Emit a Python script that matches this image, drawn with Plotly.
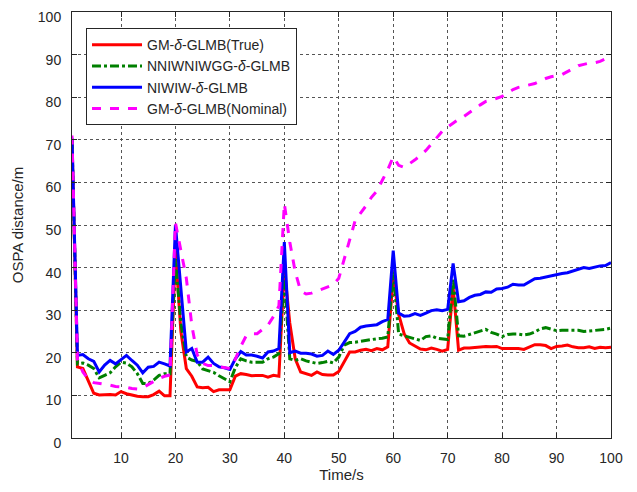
import plotly.graph_objects as go

time_s = list(range(1, 101))

gm_true = [70, 16.7, 16.3, 13.2, 10.5, 10.1, 10.2, 10.2, 10.1, 10.9,
           10.4, 10.1, 9.8, 9.7, 9.7, 10.2, 11.0, 9.9, 9.9, 44,
           25, 16.3, 14.5, 12, 11.8, 11.9, 10.9, 11.3, 11.3, 11.3,
           14.5, 15.1, 14.9, 14.6, 14.7, 14.7, 14.3, 14.7, 14.5, 40,
           27, 18.6, 15.5, 15.1, 14.7, 15.5, 14.9, 14.8, 14.8, 15.6,
           18, 20.2, 20.2, 20.6, 20.8, 20.5, 21, 20.7, 21.4, 38,
           29, 24.5, 22.3, 21.5, 20.9, 20.7, 21.1, 20.8, 20.4, 20.8,
           35.5, 20.6, 21.1, 21.1, 21.2, 21.3, 21.5, 21.4, 21.5, 21,
           21, 21.1, 21, 20.8, 21.4, 21.9, 21.9, 21.7, 21, 21.5,
           21.6, 21.8, 21.4, 21.2, 21.2, 21.4, 21, 21.3, 21.2, 21.3]

nniw_gg = [70, 17.4, 17.6, 17.1, 16.3, 14.1, 14.7, 15.3, 16.7, 17.8,
           17.6, 16.7, 15.1, 12.8, 12.8, 13.6, 14.7, 15.1, 15.1, 42,
           27, 19, 18.3, 18, 16.2, 15.8, 15.4, 14.6, 13.8, 13.2,
           16.5, 18.6, 18.1, 17.8, 17.8, 17.8, 18.6, 19, 19.8, 38,
           18.6, 18.2, 18.6, 18.1, 17.8, 17.5, 17.7, 18, 17.6, 19,
           21.8, 22.4, 22.5, 22.7, 23, 23.2, 23.3, 23.4, 23.7, 39,
           24.4, 24, 23.6, 23.2, 22.9, 23.8, 24, 23.4, 23.2, 23.1,
           37.5, 24, 23.9, 24.3, 24.6, 25, 25.5, 24.8, 24.4, 23.8,
           24.3, 24.4, 24.4, 24.2, 24.4, 24.9, 25.6, 25.9, 25.6, 25.2,
           25.3, 25.3, 25.4, 25.3, 25, 25.1, 25.2, 25.3, 25.5, 25.8]

niwiw = [70.5, 19.4, 19.6, 18.6, 18.0, 15.5, 17.1, 18.2, 17.4, 18.4,
         19.4, 18.2, 17.1, 15.3, 16.6, 16.8, 17.8, 17.4, 16.9, 50,
         35, 20.2, 21, 17.8, 17.8, 19, 17.5, 16.7, 16.5, 16.1,
         18.6, 20.3, 19.5, 19.5, 19.2, 18.8, 20.2, 20.4, 21, 46,
         20, 20.4, 19.9, 19.9, 19.7, 19.2, 19.4, 20.4, 19.6, 20.6,
         22.5, 24.5, 25, 26, 26.3, 26.4, 26.6, 27.3, 27.8, 44,
         29.3, 28.6, 28.7, 29.2, 28.8, 29.3, 29.9, 30.1, 29.9, 30.2,
         41, 32, 32.2, 33, 33.5, 33.7, 34.3, 34.2, 35, 35.1,
         35.4, 36.1, 35.9, 35.9, 36.7, 37.4, 37.5, 37.8, 38, 38.4,
         38.6, 38.8, 39.2, 39.6, 40, 39.8, 40.1, 40.4, 40.5, 41.2]

gm_nominal = [71, 18.5, 15.5, 13.8, 13, 12.8, 12.7, 12.4, 12.1, 12,
              11.9, 11.6, 11.5, 11.8, 12.6, 13.3, 14, 14.5, 14.8, 50.5,
              44, 37.5, 26.5, 19.5, 17.5, 17, 17, 16.8, 16.5, 16.3,
              18.5, 21.5, 24, 24.5, 24.5, 25.5, 26.5, 28.5, 31, 55,
              46, 39, 34.5, 33.8, 34, 34.5, 35, 35.5, 36, 37.5,
              42, 47, 51, 52.8, 54.5, 56.5, 58, 60.5, 63, 66,
              64, 63.5, 64.3, 65.3, 66.3, 67.5, 69, 70.5, 72, 73,
              74, 74.8, 75.5, 76.3, 77.3, 78.2, 79, 79.3, 79.7, 80.2,
              81, 81.8, 82.3, 82.6, 82.8, 83.2, 83.8, 84.4, 84.8, 85,
              85.3, 86, 86.8, 87.4, 87.7, 88, 88.1, 88.4, 89, 89.5]

series_names = ["GM-<i>δ</i>-GLMB(True)", "NNIWNIWGG-<i>δ</i>-GLMB",
                "NIWIW-<i>δ</i>-GLMB", "GM-<i>δ</i>-GLMB(Nominal)"]
x_ticks = [10, 20, 30, 40, 50, 60, 70, 80, 90, 100]
y_ticks = [0, 10, 20, 30, 40, 50, 60, 70, 80, 90, 100]

styles = [("#ff0000", "solid"), ("#008000", "dashdot"),
          ("#0000ff", "solid"), ("#ff00ff", "dash")]

fig = go.Figure()
for name, ys, (col, dash) in zip(series_names, [gm_true, nniw_gg, niwiw, gm_nominal], styles):
    fig.add_trace(go.Scatter(x=time_s, y=ys, mode="lines", name=name,
                             line=dict(color=col, width=3, dash=dash)))

font_family = "Liberation Sans, Arial, sans-serif"
axis_common = dict(
    showline=True, linecolor="#262626", linewidth=1, mirror="ticks",
    ticks="inside", ticklen=5, tickcolor="#262626",
    showgrid=True, gridcolor="#555555", griddash="dot", gridwidth=1,
    zeroline=False, automargin=False, ticklabelstandoff=7,
    ticklabeloverflow="allow",
    tickfont=dict(size=14, color="#262626", family=font_family),
)

# the page body has an 8px margin, so the figure is sized to fit the window
fig.update_layout(
    width=629, height=484,
    margin=dict(l=64, r=26, t=4, b=54),
    paper_bgcolor="white", plot_bgcolor="white",
    font=dict(family=font_family, color="#262626"),
    xaxis=dict(range=[1, 100], tickvals=x_ticks,
               title=dict(text="Time/s", font=dict(size=15), standoff=4),
               **axis_common),
    yaxis=dict(range=[0, 100], tickvals=y_ticks, ticklabelshift=5,
               title=dict(text="OSPA distance/m", font=dict(size=15), standoff=10),
               **axis_common),
    legend=dict(x=0.026, y=0.962, xanchor="left", yanchor="top",
                bgcolor="white", bordercolor="#262626", borderwidth=1,
                font=dict(size=14, color="#262626"), itemwidth=50,
                tracegroupgap=0),
    showlegend=True,
)

fig.write_html("out.html")
